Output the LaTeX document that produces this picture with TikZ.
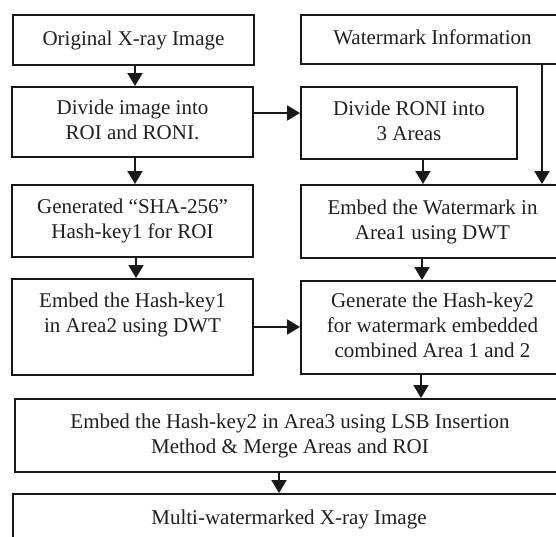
\documentclass[tikz,border=0pt]{standalone}
\usepackage{fontspec}
\setmainfont{Liberation Serif}
\usetikzlibrary{arrows.meta}
\begin{document}
\begin{tikzpicture}[x=1pt,y=-1pt,
  box/.style={draw=black!90, line width=2pt, rectangle, inner sep=0pt, align=center,
    font=\fontsize{21}{25}\selectfont, text=black!88},
  arr/.style={draw=black!90, line width=2pt, -{Triangle[length=13pt,width=15pt]}}]
\useasboundingbox (0,0) rectangle (556,536);
\clip (0,0) rectangle (556,536);
% left column
\node[box, minimum width=241pt, minimum height=50pt] (A) at (133.5,40) {\strut Original X-ray Image};
\node[box, minimum width=241pt, minimum height=70pt] (C) at (132.5,122) {\strut Divide image into\\\strut ROI and RONI.};
\node[box, minimum width=241pt, minimum height=72pt] (E) at (132.5,221) {\strut Generated “SHA-256”\\\strut Hash-key1 for ROI};
\node[box, minimum width=241pt, minimum height=96pt] (G) at (132.5,327) {\strut Embed the Hash-key1\\\strut in Area2 using DWT\\\strut};
% right column
\node[box, minimum width=263pt, minimum height=49pt] (B) at (432.5,39.5) {\strut Watermark Information};
\node[box, minimum width=216pt, minimum height=72pt] (D) at (409,123) {\strut Divide RONI into\\\strut 3 Areas};
\node[box, minimum width=263pt, minimum height=73pt] (F) at (432.5,221.5) {\strut Embed the Watermark in\\\strut Area1 using DWT};
\node[box, minimum width=263pt, minimum height=93pt] (H) at (432.5,327.5) {\strut Generate the Hash-key2\\\strut for watermark embedded\\\strut combined Area 1 and 2};
% wide boxes
\node[box, minimum width=550pt, minimum height=73pt] (I) at (290,435.5) {\strut Embed the Hash-key2 in Area3 using LSB Insertion\\\strut Method \& Merge Areas and ROI};
\node[box, minimum width=552pt, minimum height=50pt] (J) at (289,519) {\strut Multi-watermarked X-ray Image};
% connectors
\draw[arr] ([xshift=1.5pt]A.south) -- ([xshift=1.5pt]A.south |- C.north);
\draw[arr] ([yshift=9pt]C.east) -- ([yshift=9pt]C.east -| D.west);
\draw[arr] ([xshift=2.5pt]C.south) -- ([xshift=2.5pt]C.south |- E.north);
\draw[arr] ([xshift=3.5pt]E.south) -- ([xshift=3.5pt]E.south |- G.north);
\draw[arr] ([xshift=109.5pt]B.south) -- ([xshift=109.5pt]B.south |- F.north);
\draw[arr] ([xshift=14pt]D.south) -- ([xshift=14pt]D.south |- F.north);
\draw[arr] ([xshift=-10.5pt]F.south) -- ([xshift=-10.5pt]F.south |- H.north);
\draw[arr] (G.east) -- (G.east -| H.west);
\draw[arr] ([xshift=-11.5pt]H.south) -- ([xshift=-11.5pt]H.south |- I.north);
\draw[arr] ([xshift=-11pt]I.south) -- ([xshift=-11pt]I.south |- J.north);
\end{tikzpicture}
\end{document}
